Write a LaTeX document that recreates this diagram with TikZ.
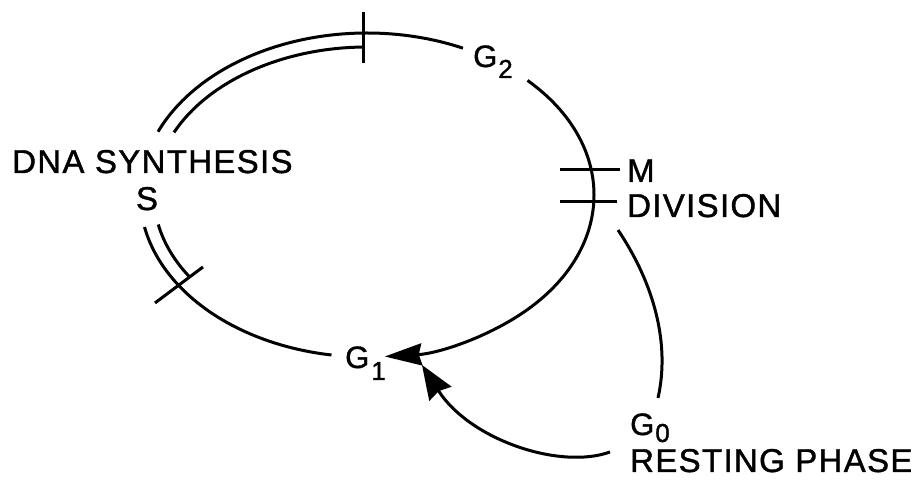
\documentclass[tikz,border=0pt]{standalone}
\usepackage{fontspec}
\setmainfont{Liberation Sans}[FakeBold=1.2, LetterSpace=4]
\usetikzlibrary{arrows.meta}
\newcommand\subdrop[2]{\raisebox{-#1}{\fontsize{26}{28}\selectfont #2}}
\tikzset{
  ln/.style={line width=3pt},
  lab/.style={inner sep=0pt, anchor=base west, font=\fontsize{33}{36}\selectfont},
  glab/.style={inner sep=0pt, anchor=base west, font=\fontsize{31}{34}\selectfont},
  bigtip/.style={-{Stealth[length=37pt,width=22pt,inset=3pt]}},
  bigtipb/.style={-{Stealth[length=34pt,width=26pt,inset=3pt]}}
}
\begin{document}
\begin{tikzpicture}[x=1pt,y=1pt]
\useasboundingbox (0,0) rectangle (911,485);
\coordinate (C) at (367,290);
% labels
\node[lab] (dna) at (12,312) {DNA SYNTHESIS};
\node[lab, anchor=base] (s) at (147,275) {S};
\node[glab] (g2) at (473,418) {G\kern1pt\subdrop{11pt}{2}};
\node[glab] (g1) at (345,117) {G\kern2pt\subdrop{12pt}{1}};
\node[glab] (g0) at (630,50) {G\kern1pt\subdrop{7pt}{0}};
\node[lab] (m) at (627,303) {M};
\node[lab] (div) at (627,268) {DIVISION};
\node[lab] (rest) at (630,13) {RESTING PHASE};
% cycle: S phase double lines
\draw[ln] (C) ++(157:227 and 162) arc[start angle=157, end angle=91, x radius=227, y radius=162];
\draw[ln] (C) ++(155:213 and 148) arc[start angle=155, end angle=91, x radius=213, y radius=148];
\draw[ln] (C) ++(191.4:227 and 162) arc[start angle=191.4, end angle=214, x radius=227, y radius=162];
\draw[ln] (C) ++(191.5:213 and 148) arc[start angle=191.5, end angle=214, x radius=213, y radius=148];
% single segments
\draw[ln] (C) ++(91:227 and 162) arc[start angle=91, end angle=65, x radius=227, y radius=162];
\draw[ln] (C) ++(214:227 and 162) arc[start angle=214, end angle=261, x radius=227, y radius=162];
\draw[ln, bigtip] (C) ++(45:227 and 162) arc[start angle=45, end angle=-85.5, x radius=227, y radius=162];
% ticks
\coordinate (t1a) at (363,473); \coordinate (t1b) at (363,422);
\draw[ln] (t1a) -- (t1b);
\coordinate (mA) at (560,315); \coordinate (mB) at (620,315);
\draw[ln] (mA) -- (mB);
\coordinate (dA) at (560,283); \coordinate (dB) at (617,283);
\draw[ln] (dA) -- (dB);
\coordinate (xA) at (155,182); \coordinate (xB) at (203,218);
\draw[ln] (xA) -- (xB);
% G0 branch
\coordinate (g0s) at (618,255); \coordinate (g0e) at (658,87);
\draw[ln] (g0s) .. controls (655,200) and (670,140) .. (g0e);
\coordinate (rs) at (610,33); \coordinate (g1tip) at (422,120);
\draw[ln, bigtipb] (rs) .. controls (560,15) and (470,45) .. (g1tip);
\end{tikzpicture}
\end{document}
